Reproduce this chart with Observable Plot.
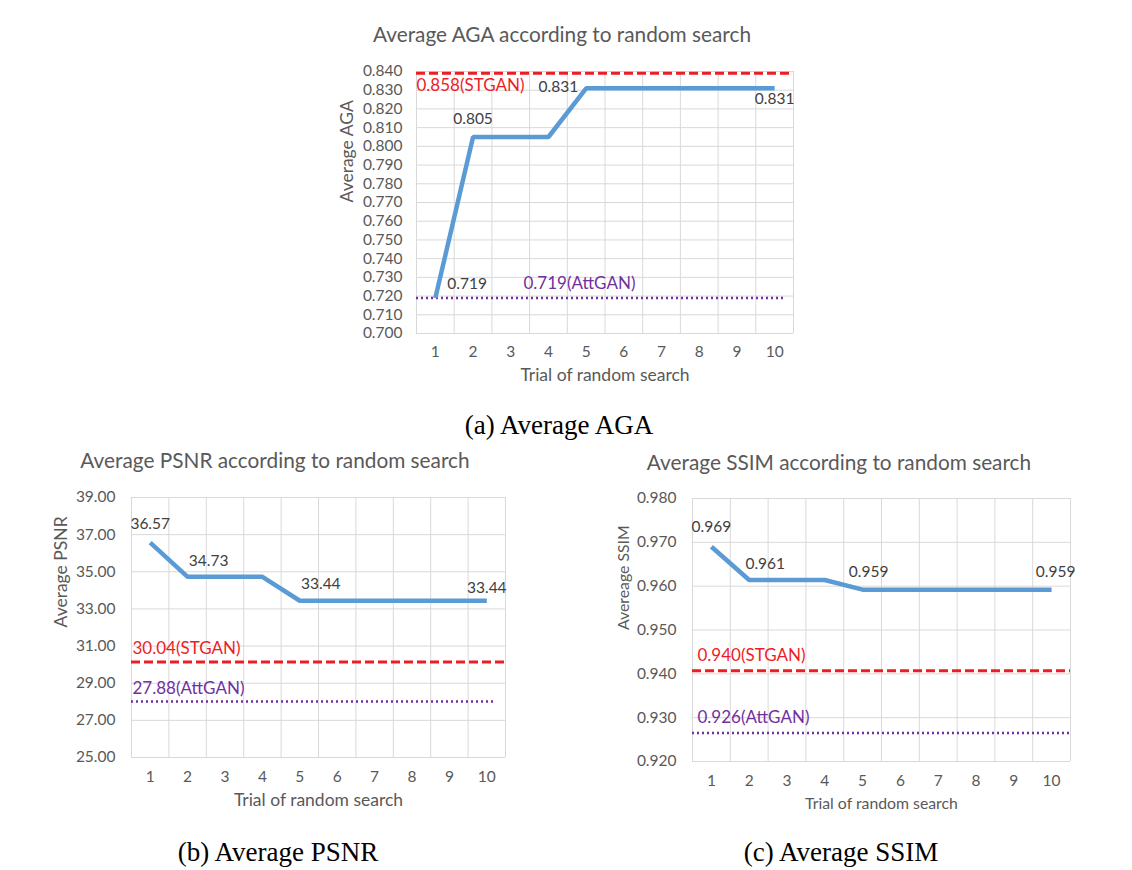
<!DOCTYPE html>
<html>
<head>
<meta charset="utf-8">
<script src="https://cdn.jsdelivr.net/npm/d3@7"></script>
<script src="https://cdn.jsdelivr.net/npm/@observablehq/plot@0.6"></script>
<style>
  html, body { margin: 0; padding: 0; background: #fff; }
  #root { position: relative; width: 1132px; height: 870px; overflow: hidden; font-family: Lato, "Open Sans", sans-serif; background: #fff; }
  .title { position: absolute; color: #595959; font-size: 20.8px; line-height: 24px; white-space: nowrap; transform: translateX(-50%); }
  .cap { position: absolute; font-family: "Liberation Serif", "Times New Roman", serif; font-size: 27px; line-height: 30px; color: #000; white-space: nowrap; transform: translateX(-50%); }
  .chart { position: absolute; }
</style>
</head>
<body>
<div id="root">
  <div class="title" style="left:562px;top:22px;">Average AGA according to random search</div>
  <div class="chart" id="chartA" style="left:330px;top:55px;"></div>
  <div class="cap" style="left:559px;top:410px;">(a) Average AGA</div>

  <div class="title" style="left:275px;top:448px;">Average PSNR according to random search</div>
  <div class="chart" id="chartB" style="left:35px;top:480px;"></div>
  <div class="cap" style="left:278px;top:837px;">(b) Average PSNR</div>

  <div class="title" style="left:839px;top:450px;">Average SSIM according to random search</div>
  <div class="chart" id="chartC" style="left:600px;top:480px;"></div>
  <div class="cap" style="left:841px;top:837px;">(c) Average SSIM</div>
</div>
<script>
// ---------- data ----------
const trials = [1, 2, 3, 4, 5, 6, 7, 8, 9, 10];

const agaValues = [0.719, 0.805, 0.805, 0.805, 0.831, 0.831, 0.831, 0.831, 0.831, 0.831];
const agaStgan = 0.839;
const agaAttgan = 0.719;
const agaStganText = "0.858(STGAN)";
const agaAttganText = "0.719(AttGAN)";
const agaTicks = [0.700, 0.710, 0.720, 0.730, 0.740, 0.750, 0.760, 0.770, 0.780, 0.790, 0.800, 0.810, 0.820, 0.830, 0.840];

const psnrValues = [36.57, 34.73, 34.73, 34.73, 33.44, 33.44, 33.44, 33.44, 33.44, 33.44];
const psnrStgan = 30.14;
const psnrAttgan = 28.02;
const psnrStganText = "30.04(STGAN)";
const psnrAttganText = "27.88(AttGAN)";
const psnrTicks = [25, 27, 29, 31, 33, 35, 37, 39];

const ssimValues = [0.969, 0.9614, 0.9614, 0.9614, 0.9592, 0.9592, 0.9592, 0.9592, 0.9592, 0.9592];
const ssimStgan = 0.9407;
const ssimAttgan = 0.9265;
const ssimStganText = "0.940(STGAN)";
const ssimAttganText = "0.926(AttGAN)";
const ssimTicks = [0.920, 0.930, 0.940, 0.950, 0.960, 0.970, 0.980];

const labeledPoints = [0, 1, 4, 9];

// ---------- drawing ----------
const GRID = "#d9d9d9", TXT = "#595959", LBL = "#404040", BLUE = "#5b9bd5", RED = "#ee1c25", PURPLE = "#7030a0";

function makeChart(cfg) {
  const rows = trials.map((t, i) => ({t, v: cfg.values[i]}));
  const bounds = trials.map(t => t - 0.5).concat([trials[trials.length - 1] + 0.5]);
  const x0 = bounds[0], x1 = bounds[bounds.length - 1];
  const fmt = d3.format(cfg.fmt);
  const marks = [
    Plot.gridY(cfg.ticks, {stroke: GRID, strokeOpacity: 1, strokeWidth: 1}),
    Plot.ruleX(bounds, {stroke: GRID, strokeWidth: 1}),
    Plot.axisY(cfg.ticks, {tickSize: 0, tickPadding: cfg.yPad, tickFormat: fmt, fontSize: 15.5, fill: TXT, label: null}),
    Plot.axisX(trials, {tickSize: 0, tickPadding: cfg.xPad, fontSize: 15.5, fill: TXT, label: null, tickFormat: d => String(d)}),
    Plot.text([cfg.yLabel], {frameAnchor: "left", rotate: -90, dx: cfg.yLabelDx, text: d => d, fontSize: cfg.axisFont, fill: TXT}),
    Plot.text([cfg.xLabel], {frameAnchor: "bottom", dy: cfg.xLabelDy, text: d => d, fontSize: cfg.axisFont, fill: TXT}),
    Plot.ruleY([cfg.stgan], {x1: x0, x2: x1, stroke: RED, strokeWidth: 3, strokeDasharray: "9,4"}),
    Plot.ruleY([cfg.attgan], {x1: x0, x2: cfg.attEnd, stroke: PURPLE, strokeWidth: 2.5, strokeDasharray: "2,3"}),
    Plot.line(rows, {x: "t", y: "v", stroke: BLUE, strokeWidth: 4.5, strokeLinecap: "butt", strokeLinejoin: "miter"}),
    Plot.text([cfg.stgan], {x: x0, y: d => d, text: () => cfg.stganText, textAnchor: "start", dx: cfg.stganDx, dy: cfg.stganDy, fill: RED, fontSize: 17}),
    Plot.text([cfg.attgan], {x: x0, y: d => d, text: () => cfg.attganText, textAnchor: "start", dx: cfg.attDx, dy: cfg.attDy, fill: PURPLE, fontSize: 17})
  ];
  labeledPoints.forEach((idx, k) => {
    const o = cfg.labelOffsets[k];
    marks.push(Plot.text([rows[idx]], {x: "t", y: "v", text: d => fmt(d.v), dx: o[0], dy: o[1], textAnchor: o[2] || "middle", fill: LBL, fontSize: 15.5}));
  });
  return Plot.plot({
    width: cfg.width, height: cfg.height,
    marginLeft: cfg.m[0], marginRight: cfg.m[1], marginTop: cfg.m[2], marginBottom: cfg.m[3],
    x: {type: "linear", domain: [x0, x1]},
    y: {type: "linear", domain: [cfg.ticks[0], cfg.ticks[cfg.ticks.length - 1]]},
    style: {fontFamily: "Lato, 'Open Sans', sans-serif", background: "transparent", overflow: "visible"},
    marks
  });
}

document.getElementById("chartA").append(makeChart({
  values: agaValues, ticks: agaTicks, fmt: ".3f",
  stgan: agaStgan, attgan: agaAttgan, stganText: agaStganText, attganText: agaAttganText,
  width: 480, height: 340, m: [86, 17, 16, 62],
  yPad: 14, xPad: 12, yLabel: "Average AGA", xLabel: "Trial of random search",
  yLabelDx: -69, xLabelDy: 47, axisFont: 17.5,
  attEnd: 10.27, stganDx: 0, stganDy: 12, attDx: 107, attDy: -14,
  labelOffsets: [[12, -14, "start"], [0, -18], [-8, -1, "end"], [0, 11]]
}));

document.getElementById("chartB").append(makeChart({
  values: psnrValues, ticks: psnrTicks, fmt: ".2f",
  stgan: psnrStgan, attgan: psnrAttgan, stganText: psnrStganText, attganText: psnrAttganText,
  width: 490, height: 340, m: [96, 20, 17, 63],
  yPad: 16, xPad: 13, yLabel: "Average PSNR", xLabel: "Trial of random search",
  yLabelDx: -70, xLabelDy: 48, axisFont: 17.5,
  attEnd: 10.23, stganDx: 1, stganDy: -13, attDx: 1, attDy: -13,
  labelOffsets: [[0, -19], [21, -16], [21, -17], [0, -13]]
}));

document.getElementById("chartC").append(makeChart({
  values: ssimValues, ticks: ssimTicks, fmt: ".3f",
  stgan: ssimStgan, attgan: ssimAttgan, stganText: ssimStganText, attganText: ssimAttganText,
  width: 490, height: 340, m: [92, 20, 18, 59],
  yPad: 16, xPad: 13, yLabel: "Avereage SSIM", xLabel: "Trial of random search",
  yLabelDx: -69, xLabelDy: 47, axisFont: 15.8,
  attEnd: 10.5, stganDx: 5, stganDy: -15, attDx: 5, attDy: -15,
  labelOffsets: [[0, -20], [16, -16], [6, -18], [4, -18]]
}));
</script>
</body>
</html>
